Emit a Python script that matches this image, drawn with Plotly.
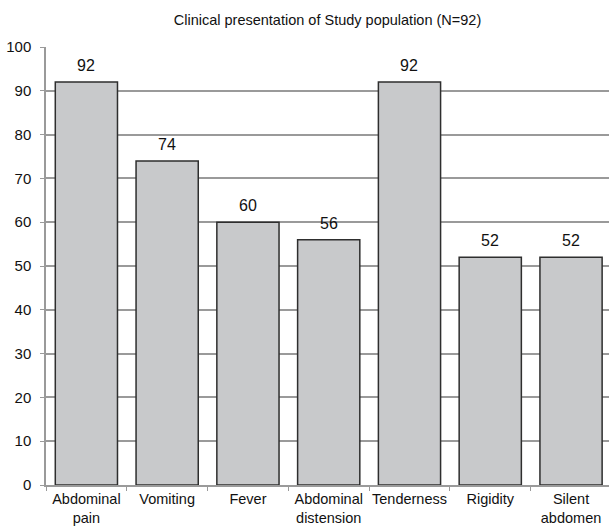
import plotly.graph_objects as go

# Symptoms recorded in the study population (N=92)
symptoms = ["Abdominal pain", "Vomiting", "Fever", "Abdominal distension",
            "Tenderness", "Rigidity", "Silent abdomen"]
tick_text = ["Abdominal<br>pain", "Vomiting", "Fever", "Abdominal<br>distension",
             "Tenderness", "Rigidity", "Silent<br>abdomen"]
counts = [92, 74, 60, 56, 92, 52, 52]
y_ticks = [0, 10, 20, 30, 40, 50, 60, 70, 80, 90, 100]

FONT = "Liberation Sans, Arial, sans-serif"
GRID = "#9a9a9a"

fig = go.Figure()
fig.add_trace(go.Bar(
    x=symptoms,
    y=counts,
    marker=dict(color="#c8c9cb", line=dict(color="#2e2e2e", width=1.5)),
    width=0.77,
    hoverinfo="skip",
))

# value labels above each bar
for s, c in zip(symptoms, counts):
    fig.add_annotation(x=s, y=c, text=str(c), showarrow=False,
                       yanchor="bottom", yshift=6,
                       font=dict(family=FONT, size=16, color="#111"))

fig.update_layout(
    width=609, height=531,
    margin=dict(l=46, r=0, t=47, b=46, autoexpand=False),
    paper_bgcolor="white", plot_bgcolor="white",
    showlegend=False,
    font=dict(family=FONT, size=15, color="#111"),
    title=dict(text="Clinical presentation of Study population (N=92)",
               x=0.5, xref="paper", xanchor="center",
               y=1 - 20 / 531, yref="container", yanchor="middle",
               font=dict(family=FONT, size=14.5, color="#111")),
    bargap=0.23,
)

fig.update_xaxes(
    type="category",
    tickmode="array", tickvals=symptoms, ticktext=tick_text,
    range=[-0.5, 6.47],
    tickson="boundaries",
    tickangle=0, automargin=False,
    ticks="outside", ticklen=4, tickcolor=GRID, tickwidth=1,
    showline=True, linecolor=GRID, linewidth=1.5,
    showgrid=False,
    tickfont=dict(family=FONT, size=14.5, color="#111"),
    fixedrange=True,
)
fig.update_yaxes(
    range=[0, 100],
    tickmode="array", tickvals=y_ticks,
    automargin=False,
    ticks="outside", ticklen=4, tickcolor=GRID, tickwidth=1,
    showline=True, linecolor=GRID, linewidth=1.5,
    showgrid=True, gridcolor=GRID, gridwidth=1.5,
    zeroline=False,
    ticklabelstandoff=6,
    tickfont=dict(family=FONT, size=15, color="#111"),
    fixedrange=True,
)

fig.write_html("out.html")
